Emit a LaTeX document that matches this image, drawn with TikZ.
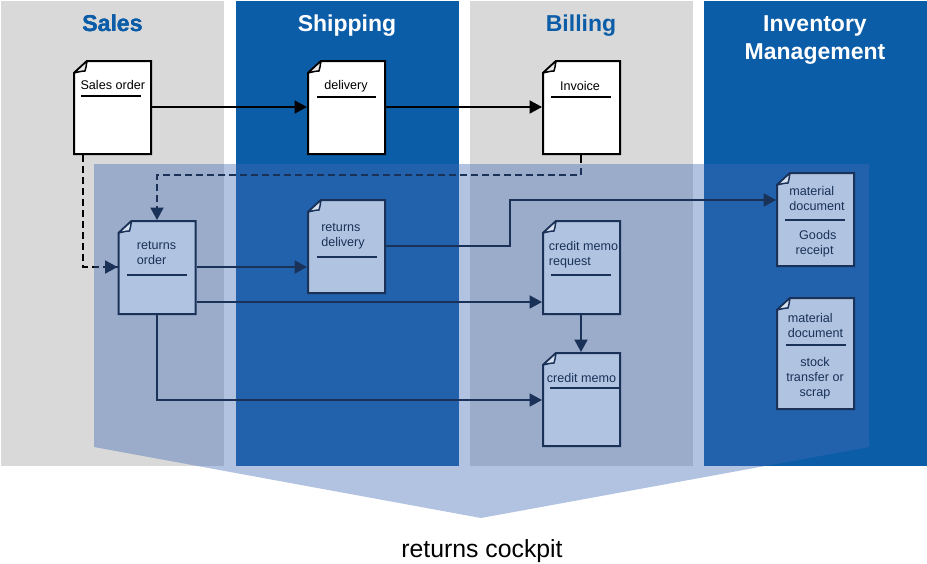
\documentclass[tikz,border=0pt]{standalone}
\usepackage{fontspec}
\setmainfont{Liberation Sans}
\usetikzlibrary{positioning, arrows.meta}
\definecolor{sapblue}{RGB}{12,93,168}
\definecolor{lanegray}{RGB}{217,217,217}
\definecolor{cockpit}{RGB}{67,107,182}
\definecolor{docblue}{RGB}{176,196,225}
\definecolor{docline}{RGB}{26,49,88}
\tikzset{
	x=1pt, y=-1pt,
	lanetitle/.style={font=\fontsize{23}{28}\selectfont\bfseries, align=center, anchor=base},
	doc/.style={rectangle, inner sep=0pt, outer sep=1pt, minimum width=77pt, minimum height=93pt},
	doctext/.style={font=\fontsize{12.6}{15}\selectfont, align=left, inner sep=0pt},
	darktext/.style={doctext, text=docline},
	docrule/.style={line width=2pt},
	link/.style={line width=2pt, -{Triangle[length=12.5pt, width=13pt]}},
	darklink/.style={link, draw=docline},
	dashline/.style={dash pattern=on 7pt off 4pt},
}
% sheet with folded corner on the node #1
\newcommand{\docsheet}[4]{
	\draw[draw=#2, fill=#3, line width=2pt] ([shift={(1,13)}]#1.north west) -- ([shift={(14,1)}]#1.north west) -- ([shift={(-1,1)}]#1.north east) -- ([shift={(-1,-1)}]#1.south east) -- ([shift={(1,-1)}]#1.south west) -- cycle;
	\draw[draw=#2, fill=#4, line width=1.5pt, line join=round] ([shift={(1,13)}]#1.north west) .. controls ([shift={(5,12)}]#1.north west) and ([shift={(9,11)}]#1.north west) .. ([shift={(12,11)}]#1.north west) .. controls ([shift={(13,9)}]#1.north west) and ([shift={(13,6)}]#1.north west) .. ([shift={(14,1)}]#1.north west) -- cycle;
}
\begin{document}
\begin{tikzpicture}
	\useasboundingbox (0,0) rectangle (927,563);
	% documents on top
	\fill[lanegray] (1,1) rectangle (224,466);
	\fill[sapblue] (236,1) rectangle (459,466);
	\fill[lanegray] (470,1) rectangle (693,466);
	\fill[sapblue] (704,1) rectangle (927,466);
	\node[doc] (salesorder) at (112.5,107.5) {};
	\node[doc] (delivery) at (346.5,107.5) {};
	\node[doc] (invoice) at (581.5,107.5) {};
	\foreach \n in {salesorder, delivery, invoice}
		\docsheet{\n}{black}{white}{lanegray!60!white}
	% titles
	\node[lanetitle, text=sapblue] (titlesales) at (112.5,31) {Sales};
	\node[lanetitle, text=white] (titleshipping) at (347,31) {Shipping};
	\node[lanetitle, text=sapblue] (titlebilling) at (581,31) {Billing};
	\node[lanetitle, text=white, anchor=center] (titleinventory) at (815,40) {Inventory\\Management};
	\node[font=\fontsize{24.8}{28}\selectfont] (titlecockpit) at (482,551) {returns cockpit};
	\node[doctext] (tsales) at (112.8,85.3) {Sales order};
	\node[doctext] (tdelivery) at (346,86.5) {delivery};
	\node[doctext] (tinvoice) at (580,85.5) {Invoice};
	% dashed lines below the cockpit
	\coordinate (orderentry) at (118,267);
	\coordinate (invoiceend) at (581,163);
	\draw[line width=2pt, dashline] ([xshift=-29.5pt]salesorder.south) |- (orderentry);
	\draw[line width=2pt] (invoice.south -| invoiceend) -- (invoiceend);
	% cockpit
	\fill[cockpit, fill opacity=0.41] (94,164) -- (869,164) -- (869,447) -- (481,518) -- (94,447) -- cycle;
	% documents in the cockpit
	\node[doc] (returnsorder) at (157,267.5) {};
	\node[doc] (returnsdelivery) at (346.5,246.5) {};
	\node[doc] (memorequest) at (581.5,267.5) {};
	\node[doc] (creditmemo) at (581.5,399.5) {};
	\node[doc] (goodsreceipt) at (815.5,219.5) {};
	\node[doc, minimum height=111pt] (stocktransfer) at (815.5,353.5) {};
	\foreach \n in {returnsorder, returnsdelivery, memorequest, creditmemo, goodsreceipt, stocktransfer}
		\docsheet{\n}{docline}{docblue}{docblue!50!white}
	% texts and rules
	\draw[docrule] (81,96) -- (141,96);
	\draw[docrule] (317,97) -- (376,97);
	\draw[docrule] (551,97) -- (611,97);
	\node[darktext] (treturnsorder) at (156.5,253) {returns\\order};
	\draw[docrule, docline] (127,275) -- (187,275);
	\node[darktext] (treturnsdelivery) at (343,236) {returns\\delivery};
	\draw[docrule, docline] (317,257) -- (377,257);
	\node[darktext] (tmemorequest) at (583.5,255) {credit memo\\request};
	\draw[docrule, docline] (551,275) -- (611,275);
	\node[darktext] (tcreditmemo) at (581.5,378) {credit memo};
	\draw[docrule, docline] (550,388) -- (621,388);
	\node[darktext] (tmat1) at (817,198) {material\\document};
	\draw[docrule, docline] (785,220) -- (845,220);
	\node[darktext] (tgoods) at (816,244) {\hspace*{3.5pt}Goods\\receipt};
	\node[darktext] (tmat2) at (815.5,325.5) {material\\document};
	\draw[docrule, docline] (786,345) -- (846,345);
	\node[darktext, align=center] (tstock) at (815,378) {stock\\transfer or\\scrap};
	% connectors
	\coordinate (invoicedash) at (581,168);
	\coordinate (dashcorner) at (581,175);
	\coordinate (ordertip) at (105,267);
	\draw[link] ([yshift=.5pt]salesorder.east) -- ([yshift=.5pt]delivery.west);
	\draw[link] ([yshift=.5pt]delivery.east) -- ([yshift=.5pt]invoice.west);
	\draw[darklink, dashline] (invoicedash) -- (dashcorner) -| (returnsorder.north);
	\draw[darklink] (ordertip) -- ([yshift=.5pt]returnsorder.west);
	\draw[darklink] ([yshift=.5pt]returnsorder.east) -- ([yshift=.5pt]returnsorder.east -| returnsdelivery.west);
	\draw[darklink] ([yshift=-34.5pt]returnsorder.east) -- ([yshift=-34.5pt]returnsorder.east -| memorequest.west);
	\draw[darklink] (returnsorder.south) |- ([yshift=-.5pt]creditmemo.west);
	\draw[darklink] ([xshift=-.5pt]memorequest.south) -- ([xshift=-.5pt]creditmemo.north);
	\draw[darklink] ([yshift=.5pt]returnsdelivery.east) -- ++(124,0) |- ([yshift=19.5pt]goodsreceipt.west);
\end{tikzpicture}
\end{document}
